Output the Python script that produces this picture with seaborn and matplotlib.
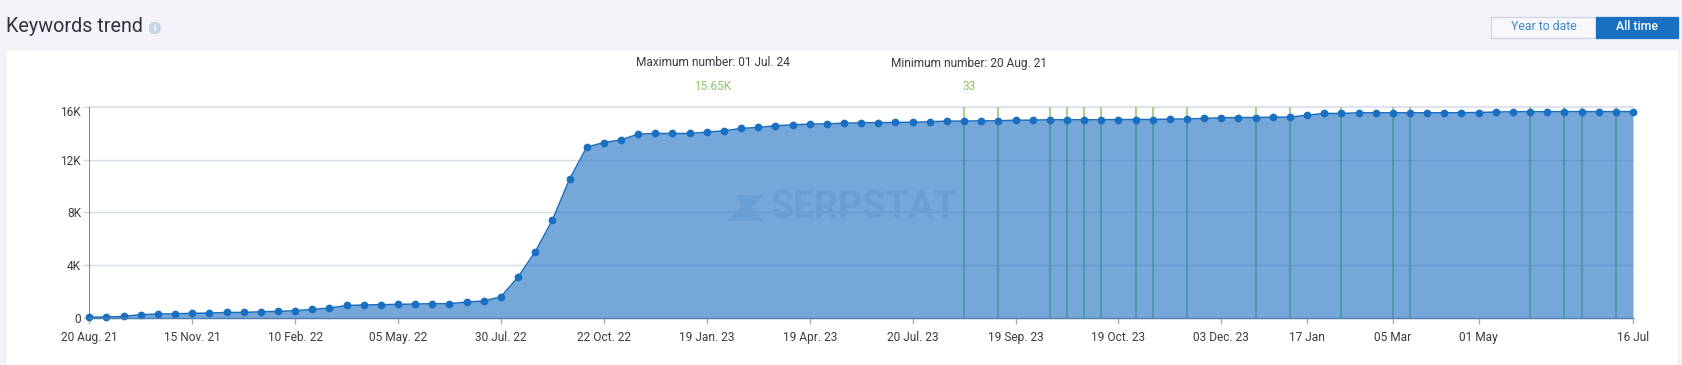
import matplotlib
matplotlib.use("Agg")
import matplotlib.pyplot as plt
from matplotlib.patches import Circle, Polygon, Rectangle
from matplotlib.transforms import ScaledTranslation
import pandas as pd
import seaborn as sns

# Data
keywords = [33, 50, 100, 230, 280, 300, 330, 350, 400, 400, 450, 480, 530, 630, 730,
            930, 960, 990, 1010, 1040, 1060, 1060, 1190, 1265, 1590, 3090, 5010, 7410,
            10520, 12950, 13300, 13500, 13940, 13990, 13990, 13990, 14090, 14190, 14370,
            14450, 14570, 14650, 14700, 14720, 14770, 14800, 14810, 14830, 14840, 14880,
            14930, 14930, 14950, 14950, 15000, 15000, 15030, 15030, 15030, 15030, 15050,
            15050, 15050, 15080, 15090, 15130, 15180, 15200, 15200, 15230, 15230, 15380,
            15510, 15510, 15560, 15560, 15560, 15560, 15560, 15560, 15570, 15580, 15620,
            15640, 15640, 15640, 15650, 15650, 15650, 15650, 15650]
tick_idx = [0, 6, 12, 18, 24, 30, 36, 42, 48, 54, 60, 66, 71, 76, 81, 90]
tick_labels = ["20 Aug. 21", "15 Nov. 21", "10 Feb. 22", "05 May. 22", "30 Jul. 22",
               "22 Oct. 22", "19 Jan. 23", "19 Apr. 23", "20 Jul. 23", "19 Sep. 23",
               "19 Oct. 23", "03 Dec. 23", "17 Jan", "05 Mar", "01 May", "16 Jul"]
y_ticks = [0, 4000, 8000, 12000, 16000]
y_labels = ["0", "4K", "8K", "12K", "16K"]
update_idx = [51, 53, 56, 57, 58, 59, 61, 62, 64, 68, 70, 73, 76, 77, 84, 86, 87, 89]

W, H = 1682, 365
BLUE = "#1a6fc0"
GREEN = "#8cc665"
TEXT = "#3a3a44"

sns.set_style("white")
plt.rcParams["font.family"] = ["Roboto", "DejaVu Sans"]

df = pd.DataFrame({"idx": range(len(keywords)), "keywords": keywords})

fig = plt.figure(figsize=(W / 100, H / 100), dpi=100, facecolor="#f3f4f9")


# helper: reference pixels to figure coordinates
def fx(x):
    return x / W


def fy(y):
    return 1 - y / H


def label(x, y, s, size=8.6, color=TEXT, ha="center", **kw):
    fig.text(fx(x), fy(y), s, fontsize=size, color=color, ha=ha, va="center", **kw)


# white panel behind the chart
fig.add_artist(Rectangle((fx(5), 0), fx(1678) - fx(5), fy(49), transform=fig.transFigure,
                         facecolor="white", edgecolor="#eceef4", linewidth=0.8, zorder=-5))

ax = fig.add_axes([fx(89.3), fy(317.7), fx(1633) - fx(89.3), fy(107) - fy(317.7)])
ax.patch.set_alpha(0)

for t in y_ticks:
    ax.axhline(t, color="#dfe3ee" if t == 16000 else "#d3dce9",
               lw=1.6 if t == 16000 else 1.0, zorder=1, clip_on=False)

ax.vlines(update_idx, 0, 16000, color=GREEN, lw=1.1, zorder=2)
ax.vlines([0], 0, 16000, color="#4f6f5f", lw=1.1, zorder=2)

ax.fill_between(df["idx"], df["keywords"], 0, color=BLUE, alpha=0.6, lw=0, zorder=3)

sns.lineplot(data=df, x="idx", y="keywords", ax=ax, color=BLUE, lw=1.1, marker="o",
             markersize=5.6, markeredgewidth=0, zorder=4, clip_on=False, errorbar=None)

ax.set_xlim(0, 90)
ax.set_ylim(0, 16000)
ax.set_xlabel("")
ax.set_ylabel("")
ax.set_xticks(tick_idx)
ax.set_xticklabels(tick_labels)
ax.set_yticks(y_ticks)
ax.set_yticklabels(y_labels)
ax.tick_params(axis="x", length=4, width=1, color="#a8adb8", labelsize=8.6,
               labelcolor=TEXT, pad=5.5, bottom=True)
ax.tick_params(axis="y", length=4.5, width=1, color="#ccd6eb", labelsize=8.6,
               labelcolor=TEXT, pad=1.5, left=True)
# the top label sits a little below its gridline in the reference
top_label = ax.get_yticklabels()[-1]
top_label.set_transform(top_label.get_transform() + ScaledTranslation(0, -4 / 100, fig.dpi_scale_trans))
for s in ["top", "right", "left"]:
    ax.spines[s].set_visible(False)
ax.spines["bottom"].set_color("#4f7fae")
ax.spines["bottom"].set_linewidth(1.0)
ax.spines["bottom"].set_zorder(5)

# header
label(5.5, 27, "Keywords trend", size=14.2, color="#30323e", ha="left")
icon = fig.add_axes([fx(148.6), fy(34), 12 / W, 12 / H])
icon.axis("off")
icon.set_xlim(-1, 1)
icon.set_ylim(-1, 1)
icon.add_patch(Circle((0, 0), 0.95, color="#ccd5e5"))
icon.text(0, -0.05, "i", color="white", fontsize=6.5, ha="center", va="center", fontweight="bold")

# range switch
fig.add_artist(Rectangle((fx(1491), fy(37.7)), fx(1596) - fx(1491), fy(17) - fy(37.7),
                         transform=fig.transFigure, facecolor="#f7f8fb", edgecolor="#ccd3e2", lw=0.9))
fig.add_artist(Rectangle((fx(1596), fy(37.7)), fx(1678) - fx(1596), fy(17) - fy(37.7),
                         transform=fig.transFigure, facecolor=BLUE, edgecolor=BLUE, lw=0.9))
label(1543.5, 27, "Year to date", size=8.8, color="#3f86c9")
label(1637, 27, "All time", size=8.8, color="white", fontweight="medium")

# max and min captions
label(713, 63, "Maximum number: 01 Jul. 24")
label(713, 87, "15.65K", color=GREEN)
label(969, 63, "Minimum number: 20 Aug. 21")
label(969, 87, "33", color=GREEN)

# watermark
wm = "#6a9fd3"
label(771, 208, "SERPSTAT", size=27, color=wm, ha="left", fontweight="bold", zorder=6)
fig.add_artist(Polygon([(fx(737), fy(195)), (fx(763), fy(195)), (fx(752), fy(207)), (fx(763), fy(221)),
                        (fx(727), fy(221)), (fx(741), fy(207))],
                       transform=fig.transFigure, facecolor=wm, edgecolor="none", zorder=6))

fig.savefig("out.png", dpi=100, facecolor=fig.get_facecolor())
